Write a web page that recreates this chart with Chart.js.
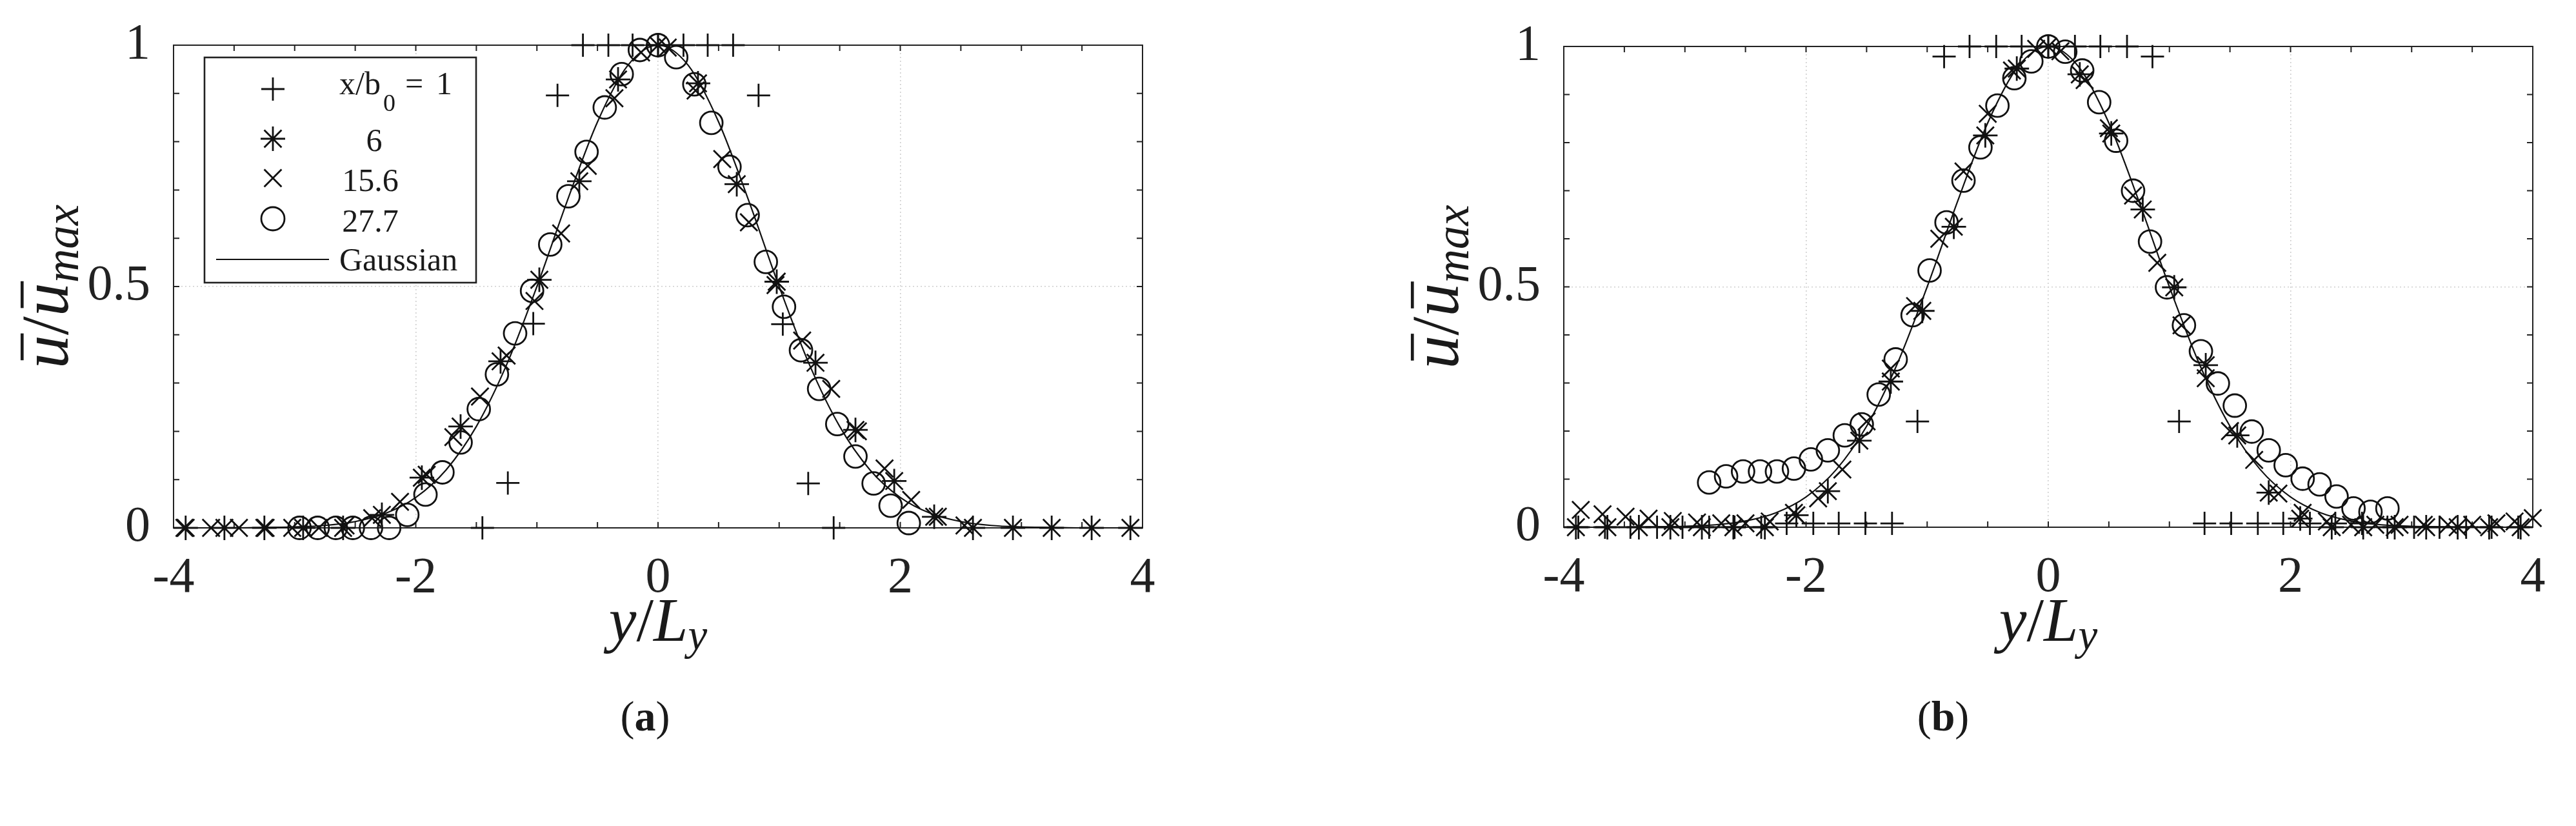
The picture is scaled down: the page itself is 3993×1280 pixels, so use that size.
<!DOCTYPE html>
<html>
<head>
<meta charset="utf-8">
<script src="https://cdn.jsdelivr.net/npm/chart.js@4.4.1/dist/chart.umd.min.js"></script>
<style>
html, body { margin: 0; padding: 0; background: #fff; }
#wrap { position: relative; width: 3993px; height: 1280px; overflow: hidden; }
canvas { position: absolute; top: 0; }
</style>
</head>
<body>
<div id="wrap">
  <canvas id="chartA" width="1997" height="1280" style="left:0px"></canvas>
  <canvas id="chartB" width="1996" height="1280" style="left:1997px"></canvas>
</div>
<script>
// ---- datos ----
const legendLabels = ['x/b0 = 1', '6', '15.6', '27.7', 'Gaussian'];
const xTickMarks = [-4, -3.5, -3, -2.5, -2, -1.5, -1, -0.5, 0, 0.5, 1, 1.5, 2, 2.5, 3, 3.5, 4];
const yTickMarks = [0, 0.1, 0.2, 0.3, 0.4, 0.5, 0.6, 0.7, 0.8, 0.9, 1];

// curva gaussiana (ambos paneles)
const gaussX = [-4, -3.75, -3.5, -3.25, -3, -2.75, -2.5, -2.25, -2, -1.75, -1.5, -1.25, -1, -0.75, -0.5, -0.25, 0,
  0.25, 0.5, 0.75, 1, 1.25, 1.5, 1.75, 2, 2.25, 2.5, 2.75, 3, 3.25, 3.5, 3.75, 4];
const gaussY = [0, 0, 0, 0.001, 0.002, 0.005, 0.013, 0.03, 0.063, 0.12, 0.21, 0.338, 0.5, 0.677, 0.841, 0.958, 1,
  0.958, 0.841, 0.677, 0.5, 0.338, 0.21, 0.12, 0.063, 0.03, 0.013, 0.005, 0.002, 0.001, 0, 0, 0];

// panel (a)
const plusAX = [-1.45, -1.24, -1.03, -0.83, -0.62, -0.41, -0.21, 0, 0.21, 0.41, 0.62, 0.83, 1.03, 1.24, 1.45];
const plusAY = [0, 0.093, 0.423, 0.896, 1, 1, 1, 1, 1, 1, 1, 0.896, 0.422, 0.092, 0];
const starAX = [-3.9, -3.58, -3.25, -2.93, -2.6, -2.28, -1.95, -1.63, -1.3, -0.98, -0.65, -0.33, 0,
  0.33, 0.65, 0.98, 1.3, 1.63, 1.95, 2.28, 2.6, 2.93, 3.25, 3.58, 3.9];
const starAY = [0, 0, 0, 0, 0, 0.027, 0.104, 0.21, 0.345, 0.514, 0.718, 0.929, 1,
  0.921, 0.712, 0.51, 0.342, 0.203, 0.097, 0.023, 0, 0, 0, 0, 0];
const crossAX = [-3.91, -3.69, -3.46, -3.24, -3.02, -2.8, -2.58, -2.36, -2.13, -1.91, -1.69, -1.47, -1.25, -1.02, -0.8,
  -0.58, -0.36, -0.14, 0.08, 0.31, 0.53, 0.75, 0.97, 1.19, 1.43, 1.65, 1.87, 2.09, 2.31, 2.53];
const crossAY = [0, 0, 0, 0, 0, 0, 0.005, 0.02, 0.054, 0.11, 0.188, 0.272, 0.357, 0.47, 0.61,
  0.75, 0.89, 0.985, 0.995, 0.906, 0.764, 0.633, 0.503, 0.388, 0.288, 0.2, 0.123, 0.058, 0.023, 0.005];
const circleAX = [-2.96, -2.81, -2.66, -2.52, -2.37, -2.22, -2.07, -1.92, -1.78, -1.63, -1.48, -1.33, -1.18, -1.04, -0.89,
  -0.74, -0.59, -0.44, -0.3, -0.15, 0, 0.15, 0.3, 0.44, 0.59, 0.74, 0.89, 1.04, 1.18, 1.33, 1.48, 1.63, 1.78, 1.92, 2.07];
const circleAY = [0, 0, 0, 0, 0, 0, 0.027, 0.069, 0.115, 0.177, 0.246, 0.318, 0.403, 0.491, 0.587,
  0.687, 0.779, 0.871, 0.94, 0.99, 1, 0.975, 0.919, 0.839, 0.748, 0.648, 0.551, 0.458, 0.368, 0.288, 0.215, 0.148, 0.092, 0.046, 0.01];

// panel (b)
const plusBX = [-3.88, -3.66, -3.45, -3.23, -3.02, -2.8, -2.59, -2.37, -2.16, -1.94, -1.73, -1.51, -1.29, -1.08, -0.86,
  -0.65, -0.43, -0.22, 0, 0.22, 0.43, 0.65, 0.86, 1.08, 1.29, 1.51, 1.73, 1.94, 2.16, 2.37, 2.59, 2.8, 3.02, 3.23, 3.45, 3.66, 3.88];
const plusBY = [0, 0, 0, 0, 0, 0, 0, 0, 0.008, 0.008, 0.008, 0.008, 0.008, 0.22, 0.979,
  1, 1, 1, 1, 1, 1, 1, 0.979, 0.22, 0.008, 0.008, 0.008, 0.008, 0.008, 0.008, 0.008, 0, 0, 0, 0, 0, 0];
const starBX = [-3.9, -3.64, -3.38, -3.12, -2.86, -2.6, -2.34, -2.08, -1.82, -1.56, -1.3, -1.04, -0.78, -0.52, -0.26, 0,
  0.26, 0.52, 0.78, 1.04, 1.3, 1.56, 1.82, 2.08, 2.34, 2.6, 2.86, 3.12, 3.38, 3.64, 3.9];
const starBY = [0, 0, 0, 0, 0, 0, 0, 0.025, 0.075, 0.18, 0.303, 0.45, 0.625, 0.815, 0.954, 1,
  0.942, 0.819, 0.661, 0.499, 0.337, 0.191, 0.072, 0.018, 0, 0, 0, 0, 0, 0, 0];
const crossBX = [-3.86, -3.68, -3.49, -3.3, -3.1, -2.9, -2.7, -2.5, -2.3, -2.1, -1.9, -1.7, -1.5, -1.3, -1.1, -0.9, -0.7, -0.5, -0.3, -0.1,
  0.1, 0.3, 0.5, 0.7, 0.9, 1.1, 1.3, 1.5, 1.7, 1.9, 2.1, 2.3, 2.5, 2.7, 2.9, 3.1, 3.3, 3.5, 3.7, 3.85, 4.0];
const crossBY = [0.036, 0.027, 0.022, 0.018, 0.013, 0.01, 0.008, 0.008, 0.012, 0.03, 0.06, 0.12, 0.22, 0.33, 0.46, 0.6, 0.74, 0.86, 0.95, 0.995,
  0.99, 0.93, 0.83, 0.69, 0.55, 0.42, 0.31, 0.2, 0.14, 0.07, 0.03, 0.012, 0.005, 0.005, 0.005, 0.005, 0.005, 0.005, 0.008, 0.012, 0.019];
const circleBX = [-2.8, -2.66, -2.52, -2.38, -2.24, -2.1, -1.96, -1.82, -1.68, -1.54, -1.4, -1.26, -1.12, -0.98, -0.84, -0.7, -0.56, -0.42, -0.28, -0.14, 0,
  0.14, 0.28, 0.42, 0.56, 0.7, 0.84, 0.98, 1.12, 1.26, 1.4, 1.54, 1.68, 1.82, 1.96, 2.1, 2.24, 2.38, 2.52, 2.66, 2.8];
const circleBY = [0.093, 0.106, 0.116, 0.116, 0.116, 0.122, 0.141, 0.16, 0.191, 0.214, 0.276, 0.349, 0.441, 0.534, 0.634, 0.721, 0.79, 0.877, 0.934, 0.969, 1,
  0.989, 0.95, 0.884, 0.804, 0.7, 0.594, 0.499, 0.42, 0.366, 0.299, 0.253, 0.199, 0.16, 0.129, 0.101, 0.089, 0.064, 0.039, 0.032, 0.039];

// ---- estilos ----
const INK = '#111';
const SERIF = '"Liberation Serif", "Times New Roman", serif';

function pts(xs, ys) {
    return xs.map((x, i) => ({ x: x, y: ys[i] }));
}

function marcadores(label, xs, ys, estilo, radio) {
    return {
        label: label,
        data: pts(xs, ys),
        showLine: false,
        pointStyle: estilo,
        pointRadius: radio,
        pointHoverRadius: radio,
        pointBorderColor: INK,
        pointBackgroundColor: 'rgba(0,0,0,0)',
        pointBorderWidth: 2.8,
        clip: false
    };
}

function gaussiana() {
    return {
        label: 'Gaussian',
        data: pts(gaussX, gaussY),
        showLine: true,
        borderColor: INK,
        borderWidth: 2.2,
        pointRadius: 0,
        cubicInterpolationMode: 'monotone',
        clip: false
    };
}

// texto tipo LaTeX: lista de trozos {t, font, dy, bar}
function textoMath(ctx, trozos, x, y) {
    let total = 0;
    trozos.forEach(p => { ctx.font = p.font; p.w = ctx.measureText(p.t).width; total += p.w + (p.gap || 0); });
    let cx = x - total / 2;
    ctx.textBaseline = 'alphabetic';
    ctx.textAlign = 'left';
    trozos.forEach(p => {
        ctx.font = p.font;
        ctx.fillText(p.t, cx, y + (p.dy || 0));
        if (p.bar) {
            ctx.save();
            ctx.lineWidth = p.size * 0.045;
            ctx.beginPath();
            ctx.moveTo(cx + p.w * 0.25, y - p.size * 0.68);
            ctx.lineTo(cx + p.w * 1.05, y - p.size * 0.68);
            ctx.stroke();
            ctx.restore();
        }
        cx += p.w + (p.gap || 0);
    });
}

function simbolo(ctx, estilo, x, y, r) {
    ctx.beginPath();
    if (estilo === 'circle') {
        ctx.arc(x, y, r, 0, Math.PI * 2);
    } else {
        if (estilo === 'cross' || estilo === 'star') {
            ctx.moveTo(x - r, y); ctx.lineTo(x + r, y);
            ctx.moveTo(x, y - r); ctx.lineTo(x, y + r);
        }
        if (estilo === 'crossRot' || estilo === 'star') {
            const d = r * Math.SQRT1_2;
            ctx.moveTo(x - d, y - d); ctx.lineTo(x + d, y + d);
            ctx.moveTo(x - d, y + d); ctx.lineTo(x + d, y - d);
        }
    }
    ctx.stroke();
}

function panelPlugin(conf) {
    return {
        id: 'panel' + conf.nombre,
        beforeDatasetsDraw(chart) {
            const { ctx, chartArea: a, scales: { x, y } } = chart;
            ctx.save();
            ctx.strokeStyle = '#222';
            ctx.lineWidth = 2;
            ctx.beginPath();
            xTickMarks.forEach(v => {
                const px = x.getPixelForValue(v);
                ctx.moveTo(px, a.bottom); ctx.lineTo(px, a.bottom - 9);
                ctx.moveTo(px, a.top); ctx.lineTo(px, a.top + 9);
            });
            yTickMarks.forEach(v => {
                const py = y.getPixelForValue(v);
                ctx.moveTo(a.left, py); ctx.lineTo(a.left + 9, py);
                ctx.moveTo(a.right, py); ctx.lineTo(a.right - 9, py);
            });
            ctx.stroke();
            ctx.strokeRect(a.left, a.top, a.width, a.height);
            ctx.restore();
        },
        afterDraw(chart) {
            const { ctx, chartArea: a } = chart;
            ctx.save();
            ctx.fillStyle = '#1a1a1a';
            ctx.strokeStyle = '#1a1a1a';

            // titulo eje y
            const S = 104;
            ctx.save();
            ctx.translate(a.left - 164, (a.top + a.bottom) / 2);
            ctx.rotate(-Math.PI / 2);
            textoMath(ctx, [
                { t: 'u', font: 'italic ' + S + 'px ' + SERIF, size: S, bar: true },
                { t: '/', font: S + 'px ' + SERIF, size: S },
                { t: 'u', font: 'italic ' + S + 'px ' + SERIF, size: S, bar: true },
                { t: 'max', font: 'italic ' + Math.round(S * 0.7) + 'px ' + SERIF, size: S * 0.7, dy: S * 0.15 }
            ], 0, 0);
            ctx.restore();

            // titulo eje x
            const T = 96;
            textoMath(ctx, [
                { t: 'y', font: 'italic ' + T + 'px ' + SERIF, size: T },
                { t: '/', font: T + 'px ' + SERIF, size: T },
                { t: 'L', font: 'italic ' + T + 'px ' + SERIF, size: T },
                { t: 'y', font: 'italic ' + Math.round(T * 0.7) + 'px ' + SERIF, size: T * 0.7, dy: T * 0.15 }
            ], (a.left + a.right) / 2, 993);

            // subtitulo (a)/(b)
            textoMath(ctx, [
                { t: '(', font: '66px ' + SERIF, size: 66 },
                { t: conf.nombre, font: 'bold 66px ' + SERIF, size: 66 },
                { t: ')', font: '66px ' + SERIF, size: 66 }
            ], conf.captionX, 1132);

            if (conf.leyenda) {
                const L = { x1: 317, y1: 89, x2: 738, y2: 438 };
                ctx.fillStyle = '#fff';
                ctx.fillRect(L.x1, L.y1, L.x2 - L.x1, L.y2 - L.y1);
                ctx.lineWidth = 2.6;
                ctx.strokeStyle = '#222';
                ctx.strokeRect(L.x1, L.y1, L.x2 - L.x1, L.y2 - L.y1);
                ctx.fillStyle = '#1a1a1a';
                ctx.strokeStyle = INK;
                ctx.lineWidth = 2.8;
                const mx = 423;
                simbolo(ctx, 'cross', mx, 138, 18);
                simbolo(ctx, 'star', mx, 215, 19);
                simbolo(ctx, 'crossRot', mx, 276, 19);
                simbolo(ctx, 'circle', mx, 339, 18);
                ctx.lineWidth = 2.2;
                ctx.beginPath(); ctx.moveTo(335, 402); ctx.lineTo(510, 402); ctx.stroke();

                const F = '50px ' + SERIF;
                ctx.textBaseline = 'alphabetic';
                ctx.textAlign = 'left';
                ctx.font = F;
                ctx.fillText('x/b', 526, 146);
                ctx.font = '38px ' + SERIF;
                ctx.fillText('0', 594, 172);
                ctx.font = F;
                ctx.fillText('=', 628, 146);
                ctx.fillText('1', 676, 146);
                ctx.textAlign = 'center';
                ctx.fillText(legendLabels[1], 580, 234);
                ctx.fillText(legendLabels[2], 574, 296);
                ctx.fillText(legendLabels[3], 574, 359);
                ctx.textAlign = 'left';
                ctx.fillText(legendLabels[4], 526, 419);
            }
            ctx.restore();
        }
    };
}

function crearPanel(id, conf, series) {
    const ejeComun = {
        grid: { color: '#cfcfcf', lineWidth: 1.6, drawTicks: false },
        border: { display: false, dash: [2, 4] }
    };
    return new Chart(document.getElementById(id), {
        type: 'scatter',
        data: { datasets: series },
        options: {
            responsive: false,
            animation: false,
            events: [],
            layout: { autoPadding: false, padding: { left: 0, top: conf.top, right: conf.right, bottom: 0 } },
            plugins: { legend: { display: false }, tooltip: { enabled: false } },
            scales: {
                x: Object.assign({
                    type: 'linear', min: -4, max: 4,
                    afterFit(s) { s.height = 1280 - conf.bottom; s.paddingLeft = 0; s.paddingRight = 0; },
                    ticks: { stepSize: 2, padding: 40, color: '#222', maxRotation: 0, autoSkip: false,
                        font: { family: SERIF, size: 78, lineHeight: 1 },
                        callback: (v) => String(v) }
                }, ejeComun),
                y: Object.assign({
                    type: 'linear', min: 0, max: 1,
                    afterFit(s) { s.width = conf.left; s.paddingTop = 0; s.paddingBottom = 0; },
                    ticks: { stepSize: 0.5, padding: 36, color: '#222',
                        font: { family: SERIF, size: 78, lineHeight: 1 },
                        callback: (v) => String(v) }
                }, ejeComun)
            }
        },
        plugins: [panelPlugin(conf)]
    });
}

crearPanel('chartA', { nombre: 'a', left: 269, right: 226, top: 70, bottom: 818, captionX: 1000, leyenda: true }, [
    gaussiana(),
    marcadores(legendLabels[0], plusAX, plusAY, 'cross', 18),
    marcadores(legendLabels[1], starAX, starAY, 'star', 19),
    marcadores(legendLabels[2], crossAX, crossAY, 'crossRot', 19),
    marcadores(legendLabels[3], circleAX, circleAY, 'circle', 17.5)
]);

crearPanel('chartB', { nombre: 'b', left: 427, right: 67, top: 72, bottom: 817, captionX: 1015, leyenda: false }, [
    gaussiana(),
    marcadores(legendLabels[0], plusBX, plusBY, 'cross', 18),
    marcadores(legendLabels[1], starBX, starBY, 'star', 19),
    marcadores(legendLabels[2], crossBX, crossBY, 'crossRot', 19),
    marcadores(legendLabels[3], circleBX, circleBY, 'circle', 17.5)
]);
</script>
</body>
</html>
